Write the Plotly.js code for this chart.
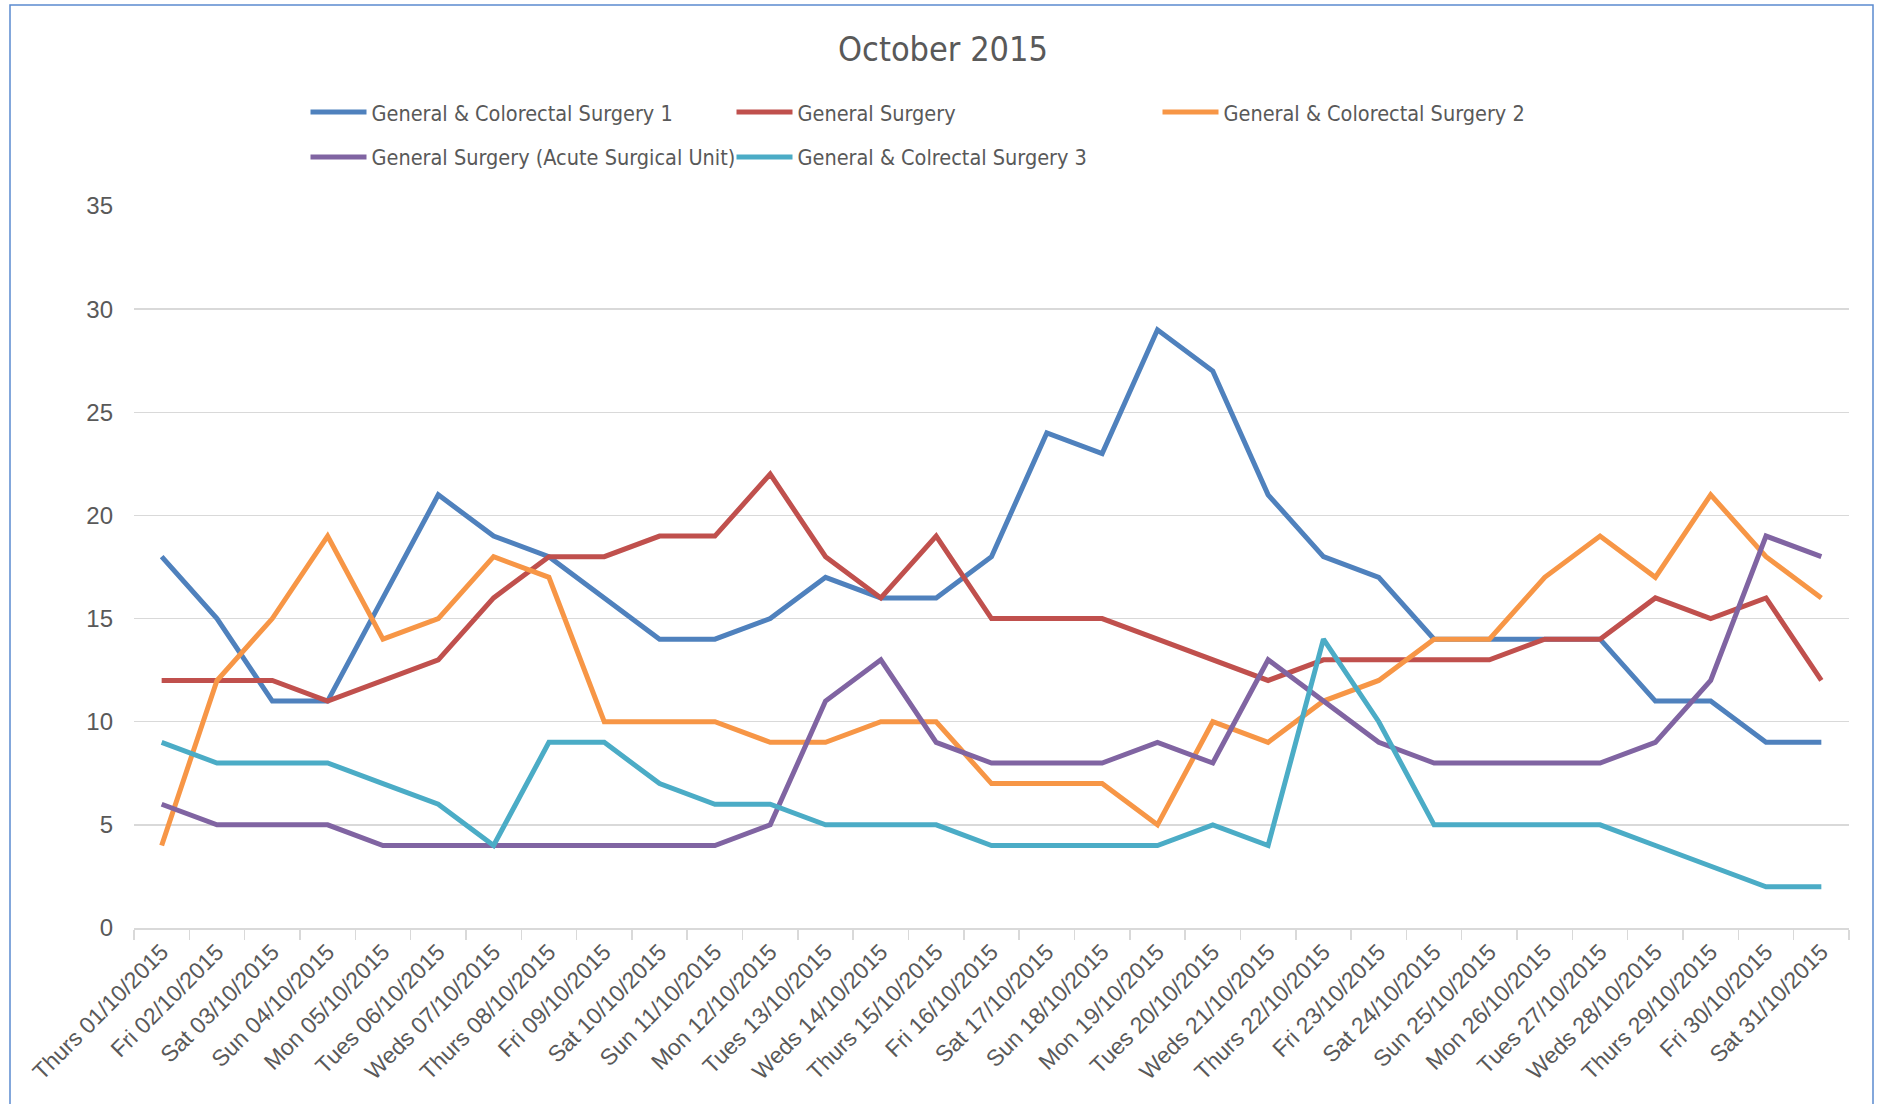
<!DOCTYPE html>
<html>
<head>
<meta charset="utf-8">
<script src="https://cdn.plot.ly/plotly-3.0.1.min.js"></script>
<style>
html,body{margin:0;padding:0;background:#fff;}
#chart{width:1877px;height:1104px;}
</style>
</head>
<body>
<div id="chart"></div>
<script>
const days = ["Thurs 01/10/2015","Fri 02/10/2015","Sat 03/10/2015","Sun 04/10/2015","Mon 05/10/2015","Tues 06/10/2015","Weds 07/10/2015","Thurs 08/10/2015","Fri 09/10/2015","Sat 10/10/2015","Sun 11/10/2015","Mon 12/10/2015","Tues 13/10/2015","Weds 14/10/2015","Thurs 15/10/2015","Fri 16/10/2015","Sat 17/10/2015","Sun 18/10/2015","Mon 19/10/2015","Tues 20/10/2015","Weds 21/10/2015","Thurs 22/10/2015","Fri 23/10/2015","Sat 24/10/2015","Sun 25/10/2015","Mon 26/10/2015","Tues 27/10/2015","Weds 28/10/2015","Thurs 29/10/2015","Fri 30/10/2015","Sat 31/10/2015"];

const seriesNames = ["General & Colorectal Surgery 1","General Surgery","General & Colorectal Surgery 2","General Surgery (Acute Surgical Unit)","General & Colrectal Surgery 3"];

const gcSurgery1 = [18,15,11,11,16,21,19,18,16,14,14,15,17,16,16,18,24,23,29,27,21,18,17,14,14,14,14,11,11,9,9];
const generalSurgery = [12,12,12,11,12,13,16,18,18,19,19,22,18,16,19,15,15,15,14,13,12,13,13,13,13,14,14,16,15,16,12];
const gcSurgery2 = [4,12,15,19,14,15,18,17,10,10,10,9,9,10,10,7,7,7,5,10,9,11,12,14,14,17,19,17,21,18,16];
const acuteUnit = [6,5,5,5,4,4,4,4,4,4,4,5,11,13,9,8,8,8,9,8,13,11,9,8,8,8,8,9,12,19,18];
const gcSurgery3 = [9,8,8,8,7,6,4,9,9,7,6,6,5,5,5,4,4,4,4,5,4,14,10,5,5,5,5,4,3,2,2];

const seriesValues = [gcSurgery1, generalSurgery, gcSurgery2, acuteUnit, gcSurgery3];
const seriesColors = ["#4F81BD","#C0504D","#F79646","#8064A2","#4BACC6"];
const seriesLegend = ["legend","legend","legend","legend2","legend2"];

const textFont = "Liberation Sans Narrow, DejaVu Sans Condensed, Arial Narrow, sans-serif";
const tickFont = "Liberation Sans, Arial, sans-serif";
const grey = "#595959";

const traces = seriesValues.map((vals, i) => ({
  type: "scatter",
  mode: "lines",
  name: seriesNames[i],
  x: days,
  y: vals,
  legend: seriesLegend[i],
  line: {color: seriesColors[i], width: 5, shape: "linear"},
  hoverinfo: "x+y+name"
}));

const legendCommon = {
  orientation: "h",
  xanchor: "left",
  yanchor: "middle",
  entrywidth: 355,
  entrywidthmode: "pixels",
  itemwidth: 56,
  traceorder: "normal",
  bgcolor: "rgba(0,0,0,0)",
  font: {family: textFont, size: 21.5, color: grey}
};

const layout = {
  width: 1877,
  height: 1104,
  paper_bgcolor: "#ffffff",
  plot_bgcolor: "#ffffff",
  margin: {l: 134, r: 28, t: 206, b: 176, pad: 0},
  title: {
    text: "October 2015",
    font: {family: textFont, size: 34, color: grey},
    x: (943-134)/1715, xref: "paper", xanchor: "center",
    y: 1 - 49/1104, yref: "container", yanchor: "middle"
  },
  showlegend: true,
  legend: Object.assign({}, legendCommon, {x: 0.1, y: 1.130}),
  legend2: Object.assign({}, legendCommon, {x: 0.1, y: 1.068}),
  xaxis: {
    type: "category",
    range: [-0.5, 30.5],
    tickson: "boundaries",
    ticks: "outside",
    ticklen: 10,
    tickwidth: 1.5,
    tickcolor: "#D9D9D9",
    showline: true,
    linecolor: "#D9D9D9",
    linewidth: 1.5,
    showgrid: false,
    zeroline: false,
    tickangle: -45,
    tickfont: {family: tickFont, size: 23, color: grey}
  },
  yaxis: {
    range: [0, 35],
    dtick: 5,
    tick0: 0,
    showgrid: true,
    gridcolor: "#D9D9D9",
    gridwidth: 1.5,
    zeroline: false,
    showline: false,
    ticks: "",
    ticklabelstandoff: 20,
    tickfont: {family: tickFont, size: 24, color: grey}
  },
  shapes: [{
    type: "rect",
    xref: "paper", yref: "paper",
    x0: (10-134)/1715, x1: (1873-134)/1715,
    y0: (928-1120)/722, y1: (928-5)/722,
    line: {color: "#5B8BD0", width: 1.5},
    fillcolor: "rgba(0,0,0,0)",
    layer: "below"
  }]
};

Plotly.newPlot("chart", traces, layout, {displayModeBar: false, staticPlot: true});
</script>
</body>
</html>
